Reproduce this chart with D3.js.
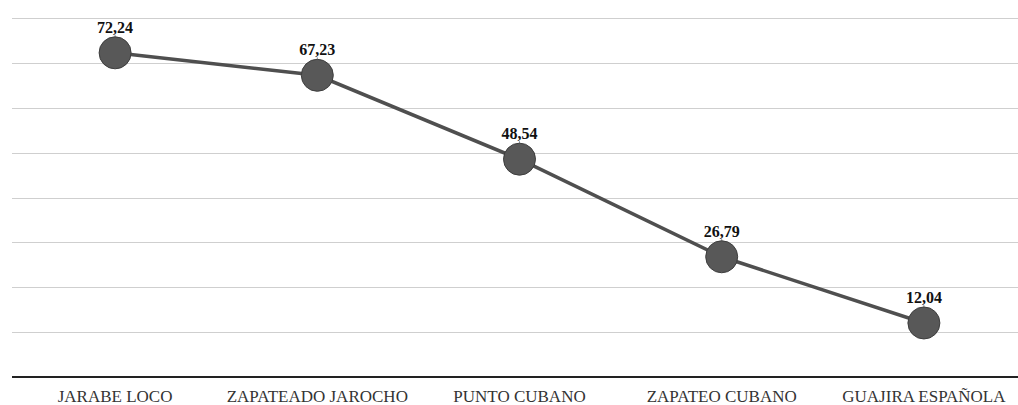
<!DOCTYPE html>
<html>
<head>
<meta charset="utf-8">
<script src="https://cdn.jsdelivr.net/npm/d3@7"></script>
<style>
body{margin:0;background:#fff;}
.valLabel{font-family:"Liberation Serif","Times New Roman",serif;font-weight:bold;font-size:16px;fill:#111;}
.catLabel{font-family:"Liberation Serif","Times New Roman",serif;font-size:17px;fill:#333;}
</style>
</head>
<body>
<svg id="chart" width="1018" height="405"></svg>
<script>
var categories=["JARABE LOCO","ZAPATEADO JAROCHO","PUNTO CUBANO","ZAPATEO CUBANO","GUAJIRA ESPAÑOLA"],
	values=[72.24,67.23,48.54,26.79,12.04],
	valueLabels=["72,24","67,23","48,54","26,79","12,04"],
	gridTicks=[10,20,30,40,50,60,70,80];

var W=1018,H=405,
	LEFT=14,RIGHT=1025,
	BASE=377,TOP=18,
	RADIUS=16;

var svg=d3.select("#chart");

var x=d3.scaleBand()
	.domain(categories)
	.range([LEFT,RIGHT]);

var y=d3.scaleLinear()
	.domain([0,80])
	.range([BASE,TOP]);

// gridlines
svg.append("g")
	.selectAll("line")
	.data(gridTicks)
	.enter().append("line")
	.attr("x1",12)
	.attr("x2",W)
	.attr("y1",function(d){return Math.round(y(d))+0.5;})
	.attr("y2",function(d){return Math.round(y(d))+0.5;})
	.attr("stroke","#cfcfcf")
	.attr("stroke-width",1.2);

// baseline axis
var xAxis=d3.axisBottom(x).tickSize(0).tickPadding(13);
var ax=svg.append("g")
	.attr("transform","translate(0,"+BASE+")")
	.call(xAxis);
ax.select(".domain").attr("stroke","#222").attr("stroke-width",2).attr("d","M12,0H"+W);
ax.selectAll("text").attr("class","catLabel").attr("font-family",null).attr("font-size",null).attr("fill",null);

function cx(i){return x(categories[i])+x.bandwidth()/2;}

// line
var line=d3.line()
	.x(function(d,i){return cx(i);})
	.y(function(d){return y(d);});

svg.append("path")
	.datum(values)
	.attr("d",line)
	.attr("fill","none")
	.attr("stroke","#4f4f4f")
	.attr("stroke-width",3.5);

// leader ticks above markers
svg.append("g")
	.selectAll("line")
	.data(values)
	.enter().append("line")
	.attr("x1",function(d,i){return cx(i);})
	.attr("x2",function(d,i){return cx(i);})
	.attr("y1",function(d){return y(d)-18;})
	.attr("y2",function(d){return y(d)-6;})
	.attr("stroke","#999")
	.attr("stroke-width",1);

// markers
svg.append("g")
	.selectAll("circle")
	.data(values)
	.enter().append("circle")
	.attr("cx",function(d,i){return cx(i);})
	.attr("cy",function(d){return y(d);})
	.attr("r",RADIUS)
	.attr("fill","#585858")
	.attr("stroke","#3e3e3e")
	.attr("stroke-width",1);

// value labels
svg.append("g")
	.selectAll("text")
	.data(values)
	.enter().append("text")
	.attr("class","valLabel")
	.attr("x",function(d,i){return cx(i);})
	.attr("y",function(d){return y(d)-20;})
	.attr("text-anchor","middle")
	.text(function(d,i){return valueLabels[i];});
</script>
</body>
</html>
